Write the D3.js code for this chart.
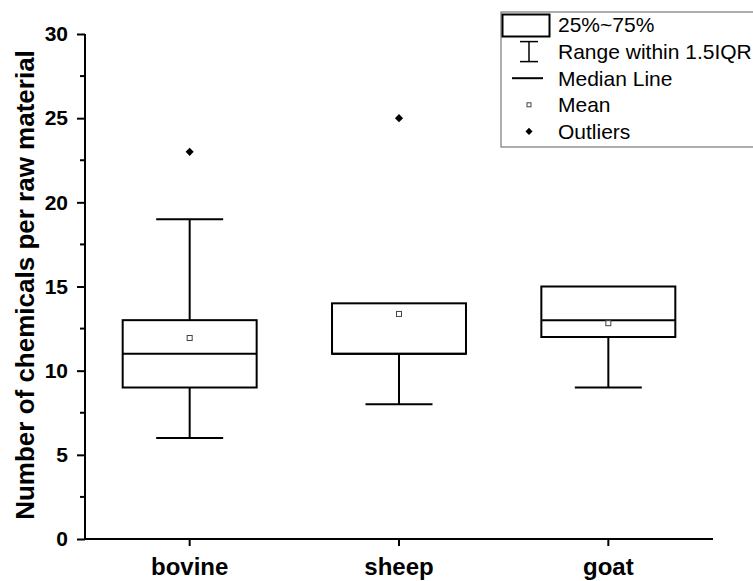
<!DOCTYPE html>
<html><head><meta charset="utf-8">
<script src="https://cdn.jsdelivr.net/npm/d3@7"></script>
<style>body{margin:0;background:#fff}svg{display:block}text{font-family:"Liberation Sans",Arial,sans-serif}</style>
</head><body>
<script>
const categories = ["bovine","sheep","goat"];
const q1 = [9, 11, 12];
const median = [11, 11, 13];
const q3 = [13, 14, 15];
const whiskerLow = [6, 8, 9];
const whiskerHigh = [19, 14, 15];
const means = [11.94, 13.37, 12.82];
const outliers = [[23],[25],[]];
const yTicks = [0,5,10,15,20,25,30];
const legendLabels = ["25%~75%","Range within 1.5IQR","Median Line","Mean","Outliers"];

const W=753,H=581;
const svg=d3.select("body").append("svg").attr("width",W).attr("height",H);
const x=d3.scaleBand().domain(categories).range([85,713]).paddingInner(0.36).paddingOuter(0.18);
const y=d3.scaleLinear().domain([0,30]).range([539,34]);
const cx=c=>x(c)+x.bandwidth()/2;
const bw=x.bandwidth();

// axes
const ya=d3.axisLeft(y).tickValues(yTicks).tickSize(8).tickFormat(d3.format("d"));
const gy=svg.append("g").attr("transform","translate(85,0)").call(ya);
gy.select(".domain").attr("stroke-width",2).attr("d","M0,"+y(30)+"V"+y(0));
gy.selectAll(".tick line").attr("stroke-width",2);
gy.selectAll(".tick text").attr("font-size",21).attr("font-weight","bold").attr("x",-17).attr("fill","#000");
const minor=d3.range(2.5,30,5);
gy.selectAll(".minor").data(minor).enter().append("line").attr("x1",0).attr("x2",-5)
  .attr("y1",d=>y(d)).attr("y2",d=>y(d)).attr("stroke","#000").attr("stroke-width",2);

const xa=d3.axisBottom(x).tickSize(7);
const gx=svg.append("g").attr("transform","translate(0,539)").call(xa);
gx.select(".domain").attr("stroke-width",2).attr("d","M85,0H713");
gx.selectAll(".tick line").attr("stroke-width",2);
gx.selectAll(".tick text").attr("font-size",24).attr("font-weight","bold").attr("y",19).attr("fill","#000");

svg.append("text").attr("transform","translate(34,285) rotate(-90)").attr("text-anchor","middle")
  .attr("font-size",26).attr("font-weight","bold").text("Number of chemicals per raw material");

// boxes
categories.forEach((c,i)=>{
  const g=svg.append("g");
  const xc=cx(c), cap=bw/2;
  g.append("line").attr("x1",xc).attr("x2",xc).attr("y1",y(q3[i])).attr("y2",y(whiskerHigh[i])).attr("stroke","#000").attr("stroke-width",2);
  g.append("line").attr("x1",xc).attr("x2",xc).attr("y1",y(q1[i])).attr("y2",y(whiskerLow[i])).attr("stroke","#000").attr("stroke-width",2);
  if(whiskerHigh[i]>q3[i]) g.append("line").attr("x1",xc-cap/2).attr("x2",xc+cap/2).attr("y1",y(whiskerHigh[i])).attr("y2",y(whiskerHigh[i])).attr("stroke","#000").attr("stroke-width",2);
  g.append("line").attr("x1",xc-cap/2).attr("x2",xc+cap/2).attr("y1",y(whiskerLow[i])).attr("y2",y(whiskerLow[i])).attr("stroke","#000").attr("stroke-width",2);
  g.append("rect").attr("x",x(c)).attr("width",bw).attr("y",y(q3[i])).attr("height",y(q1[i])-y(q3[i]))
    .attr("fill","none").attr("stroke","#000").attr("stroke-width",2);
  g.append("line").attr("x1",x(c)).attr("x2",x(c)+bw).attr("y1",y(median[i])).attr("y2",y(median[i])).attr("stroke","#000").attr("stroke-width",2);
  g.append("rect").attr("x",xc-2.5).attr("y",y(means[i])-2.5).attr("width",5).attr("height",5).attr("fill","#fff").attr("stroke","#444").attr("stroke-width",1);
  outliers[i].forEach(o=>{
    g.append("path").attr("transform",`translate(${xc},${y(o)})`).attr("d",d3.symbol(d3.symbolDiamond2,42)).attr("fill","#000");
  });
});

// legend
const lg=svg.append("g");
lg.append("rect").attr("x",501).attr("y",12).attr("width",270).attr("height",135).attr("fill","#fff").attr("stroke","#777").attr("stroke-width",1.2);
const ly=d=>25+d*26.6;
lg.append("rect").attr("x",502.5).attr("y",14.5).attr("width",47).attr("height",22).attr("fill","none").attr("stroke","#000").attr("stroke-width",2);
lg.append("line").attr("x1",529).attr("x2",529).attr("y1",ly(1)-10).attr("y2",ly(1)+10).attr("stroke","#000").attr("stroke-width",1.5);
lg.append("line").attr("x1",520).attr("x2",538).attr("y1",ly(1)-10).attr("y2",ly(1)-10).attr("stroke","#000").attr("stroke-width",1.5);
lg.append("line").attr("x1",520).attr("x2",538).attr("y1",ly(1)+10).attr("y2",ly(1)+10).attr("stroke","#000").attr("stroke-width",1.5);
lg.append("line").attr("x1",512).attr("x2",543).attr("y1",ly(2)).attr("y2",ly(2)).attr("stroke","#000").attr("stroke-width",2);
lg.append("rect").attr("x",527).attr("y",ly(3)-2).attr("width",4).attr("height",4).attr("fill","#fff").attr("stroke","#444").attr("stroke-width",1);
lg.append("path").attr("transform",`translate(529,${ly(4)})`).attr("d",d3.symbol(d3.symbolDiamond2,32)).attr("fill","#000");
legendLabels.forEach((t,i)=>{
  lg.append("text").attr("x",558).attr("y",ly(i)).attr("dy","0.35em").attr("font-size",21).attr("fill","#000").text(t);
});
</script>
</body></html>
